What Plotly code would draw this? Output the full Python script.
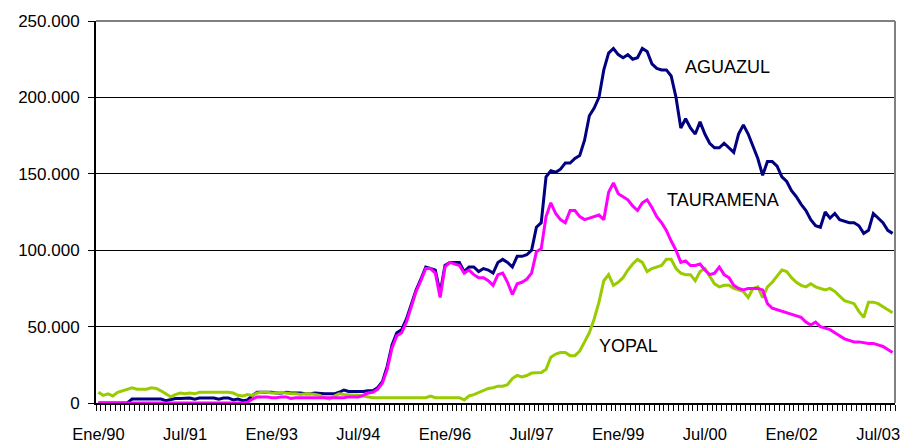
import plotly.graph_objects as go

meses = ["Ene", "Feb", "Mar", "Abr", "May", "Jun", "Jul", "Ago", "Sep", "Oct", "Nov", "Dic"]
anios = list(range(1990, 2004))
n_meses = 166
categorias = [f"{m}/{a % 100:02d}" for a in anios for m in meses][:n_meses]
etiquetas_x = ["Ene/90", "Jul/91", "Ene/93", "Jul/94", "Ene/96", "Jul/97", "Ene/99", "Jul/00", "Ene/02", "Jul/03"]

# values in thousands of units
aguazul = [0, 0, 0, 0, 0, 0, 0,
           2.6, 2.6, 2.6, 2.6, 2.6, 2.6, 2.6, 1.5, 2.0,
           3.0, 3.0, 3.3, 3.3, 2.5, 3.3, 3.3, 3.3, 3.3, 2.5, 3.3, 3.3, 2.0, 2.6, 1.5,
           2.0, 5.0, 7.0, 7.0, 7.0, 7.0, 6.5, 6.5, 7.0, 6.5,
           6.5, 6.5, 6.0, 6.0, 6.5, 6.0, 6.0, 6.0, 6.0, 7.0,
           8.5, 7.5, 7.5, 7.5, 7.5, 8.0, 8.0, 10, 14, 24,
           38, 46, 48, 55, 65, 74, 81, 89, 88, 87,
           72, 90, 92, 92, 92, 86, 89, 89, 86, 88,
           87, 85, 92, 94, 92, 89, 96, 96, 97, 100,
           115, 118, 148, 152, 151, 153, 157, 157, 160, 162,
           172, 188, 193, 200, 218, 229, 232, 228, 226, 228,
           225, 226, 232, 230, 222, 219, 218, 218, 214, 200,
           180, 186, 180, 176, 184, 176, 170, 167, 167, 170,
           167, 164, 176, 182, 176, 168, 160, 149, 158, 158,
           155, 148, 145, 139, 135, 130, 126, 120, 116, 115,
           125, 121, 124, 120, 119, 118, 118, 116, 111, 113,
           124, 121, 118, 113, 111]

tauramena = [0] * 31 + [
           0.5, 2.6, 4, 4, 4, 3.5, 3.5, 4, 4, 3,
           3.5, 3.5, 3.5, 3.5, 3.5, 3.5, 3.5, 3.5, 3.5, 3.5,
           3.5, 4, 4, 4, 5, 6.5, 7, 9, 13, 22,
           36, 44, 46, 53, 63, 73, 80, 88, 88, 85,
           69, 89, 92, 91, 90, 85, 87, 84, 82, 82,
           80, 77, 84, 85, 79, 71, 78, 79, 81, 85,
           99, 101, 122, 131, 124, 120, 118, 126, 126, 122,
           120, 121, 122, 123, 120, 138, 144, 137, 135, 133,
           129, 126, 131, 133, 128, 122, 118, 113, 106, 100,
           92, 93, 90, 90, 91, 87, 84, 85, 89, 84,
           82, 77, 75, 74, 75, 75, 75, 74, 65, 62,
           61, 60, 59, 58, 57, 56, 53, 51, 53, 50,
           49, 48, 46, 44, 42, 41, 40, 40, 39.5, 39,
           39, 38, 37, 35, 33]

yopal = [7, 5, 6, 4.6, 7, 8, 9.5, 10, 9, 9, 9,
         10, 9.5, 8, 6, 4, 5.5, 6.5, 6, 6.5, 6,
         7, 7, 7, 7, 7, 7, 7, 6.5, 5, 4.6,
         5.5, 5, 6.5, 7, 7, 6.5, 6.5, 7, 6.5, 6,
         6, 5.5, 6, 6, 5.5, 5, 3.5, 2.5, 4.5, 6,
         5.5, 5, 5, 5, 4.5, 4, 3.5, 3.5, 3.5, 3.5,
         3.5, 3.5, 3.5, 3.5, 3.5, 3.5, 3.5, 3.5, 4.6, 3.5,
         3.5, 3.5, 3.5, 3.5, 3.5, 2, 4.6, 5.5, 7, 8.5,
         9.5, 10, 11, 11, 12, 16, 18, 17, 18, 19.6,
         20, 20, 22, 30, 32, 33, 33, 31, 31, 34,
         40, 46, 55, 66, 80, 84, 77, 79, 82, 87,
         91, 94, 92, 86, 88, 89, 90, 94, 94, 88,
         85, 84, 84, 80, 86, 88, 83, 78, 76, 77,
         77, 75, 74, 73, 69, 75, 76, 69, 76, 79,
         83, 87, 86, 82, 79, 77, 76, 78, 76, 75,
         74, 75, 73, 70, 67, 66, 65, 60, 56, 66,
         66, 65, 63, 61, 59]

y_ticks = [0, 50, 100, 150, 200, 250]
y_labels = ["0", "50.000", "100.000", "150.000", "200.000", "250.000"]

fig = go.Figure()
series = [("AGUAZUL", aguazul, "#000080"),
          ("YOPAL", yopal, "#99CC00"),
          ("TAURAMENA", tauramena, "#FF00FF")]
for name, vals, col in series:
    fig.add_trace(go.Scatter(x=categorias, y=vals, mode="lines", name=name,
                             line=dict(color=col, width=3), showlegend=False))

tick_text = [c if c in etiquetas_x else "" for c in categorias]

fig.update_layout(
    width=904, height=443,
    margin=dict(l=96, r=9, t=21, b=40, autoexpand=False),
    plot_bgcolor="white", paper_bgcolor="white",
    font=dict(family="Liberation Sans, Arial, sans-serif", size=17, color="black"),
    xaxis=dict(type="category", range=[-0.5, n_meses - 0.5],
               tickmode="array", tickvals=categorias, ticktext=tick_text,
               tickson="boundaries", ticks="outside", ticklen=6, tickcolor="black",
               showgrid=False, showline=True, linecolor="black", linewidth=2,
               tickangle=0, ticklabelstandoff=15, automargin=False, fixedrange=True,
               tickfont=dict(size=16.5)),
    yaxis=dict(range=[0, 250], tickmode="array", tickvals=y_ticks, ticktext=y_labels,
               ticks="outside", ticklen=6, tickcolor="black",
               showgrid=True, gridcolor="black", gridwidth=1,
               showline=True, linecolor="black", linewidth=2,
               zeroline=False, ticklabelstandoff=5, automargin=False, fixedrange=True),
    shapes=[
        dict(type="line", xref="paper", yref="paper", x0=0, x1=1, y0=1, y1=1,
             line=dict(color="#808080", width=2)),
        dict(type="line", xref="paper", yref="paper", x0=1, x1=1, y0=0, y1=1,
             line=dict(color="#808080", width=2)),
    ],
    annotations=[
        dict(text="AGUAZUL", x=130.7, y=219.8, xref="x", yref="y", showarrow=False,
             font=dict(size=18)),
        dict(text="TAURAMENA", x=129.8, y=132.8, xref="x", yref="y", showarrow=False,
             font=dict(size=18)),
        dict(text="YOPAL", x=110.1, y=37.3, xref="x", yref="y", showarrow=False,
             font=dict(size=18)),
    ],
)

fig.write_html("out.html", config={"displayModeBar": False},
               post_script="document.body.style.margin='0';")
